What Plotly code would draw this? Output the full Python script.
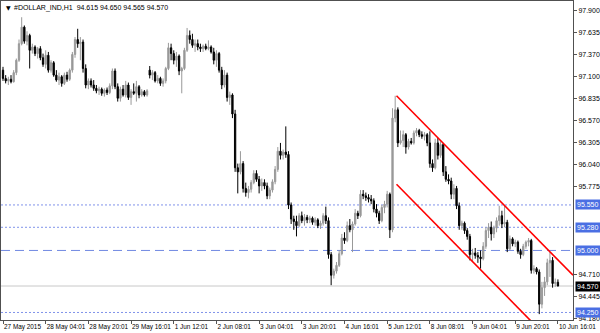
import plotly.graph_objects as go

# ---------------- data ----------------
opens = [
    97.18, 97.08, 97.05, 97.07, 97.04, 97.15, 97.30, 97.50, 97.70, 97.53,
    97.60, 97.42, 97.46, 97.38, 97.44, 97.33, 97.25, 97.36, 97.18, 97.27,
    97.12, 97.06, 97.10, 97.02, 97.12, 97.07, 97.18, 97.37, 97.55, 97.50,
    97.52, 97.20, 97.00, 97.05, 97.00, 96.96, 96.93, 96.95, 96.90, 96.94,
    96.91, 96.99, 97.17, 96.98, 96.84, 96.95, 96.88, 97.00, 96.85, 96.92,
    96.90, 96.98, 96.88, 96.92, 96.88, 97.18, 97.12, 97.15, 97.05, 97.08,
    97.02, 97.05, 97.20, 97.45, 97.38, 97.30, 97.35, 97.17, 97.20, 97.42,
    97.60, 97.55, 97.48, 97.50, 97.46, 97.44, 97.47, 97.44, 97.46, 97.40,
    97.30, 97.38, 97.18, 97.00, 97.12, 96.85, 96.88, 96.65, 96.00, 95.95,
    96.05, 95.75, 95.70, 95.74, 95.82, 95.93, 95.86, 95.78, 95.82, 95.78,
    95.66, 95.73, 95.83, 95.98, 96.20, 96.15, 96.19, 96.16, 95.55, 95.38,
    95.35, 95.30, 95.42, 95.36, 95.40, 95.37, 95.39, 95.34, 95.37, 95.30,
    95.33, 95.42, 95.36, 94.95, 94.70, 94.75, 94.82, 94.96, 95.15, 95.12,
    95.30, 95.25, 95.32, 95.45, 95.42, 95.68, 95.66, 95.64, 95.62, 95.60,
    95.50, 95.45, 95.36, 95.52, 95.56, 95.68, 95.25, 96.60, 96.70, 96.30,
    96.33, 96.40, 96.25, 96.32, 96.30, 96.42, 96.45, 96.40, 96.38, 96.40,
    96.30, 96.05, 96.00, 96.30, 96.15, 96.28, 95.95, 95.86, 95.84, 95.68,
    95.75, 95.54, 95.30, 95.33, 95.24, 95.17, 94.95, 94.97, 94.94, 94.92,
    94.90, 95.05, 95.24, 95.28, 95.20, 95.27, 95.36, 95.42, 95.32, 95.34,
    95.02, 95.14, 95.08, 95.10, 94.99, 94.95, 95.05, 95.10, 95.12, 94.76,
    94.78, 94.74, 94.35, 94.55, 94.62, 94.85, 94.88, 94.60, 94.615,
]
highs = [
    97.22, 97.12, 97.10, 97.12, 97.18, 97.32, 97.55, 97.82, 97.72, 97.65,
    97.62, 97.50, 97.48, 97.46, 97.47, 97.38, 97.42, 97.40, 97.30, 97.29,
    97.18, 97.15, 97.12, 97.15, 97.16, 97.20, 97.40, 97.58, 97.68, 97.58,
    97.55, 97.25, 97.08, 97.08, 97.06, 97.00, 96.98, 96.97, 96.96, 96.97,
    97.02, 97.20, 97.20, 97.02, 96.98, 97.00, 97.05, 97.03, 96.95, 97.02,
    97.05, 97.00, 96.95, 96.94, 96.95, 97.23, 97.18, 97.17, 97.12, 97.10,
    97.08, 97.22, 97.51, 97.50, 97.42, 97.40, 97.37, 97.22, 97.45, 97.69,
    97.66, 97.62, 97.55, 97.55, 97.50, 97.49, 97.50, 97.54, 97.48, 97.45,
    97.42, 97.40, 97.22, 97.18, 97.15, 96.92, 96.90, 96.70, 96.05, 96.20,
    96.08, 95.82, 95.78, 95.85, 95.97, 95.97, 95.90, 95.87, 95.86, 95.82,
    95.76, 95.86, 96.02, 96.25, 96.30, 96.22, 96.50, 96.20, 95.58, 95.42,
    95.42, 95.45, 95.47, 95.44, 95.43, 95.42, 95.41, 95.40, 95.39, 95.36,
    95.45, 95.53, 95.40, 94.98, 94.78, 94.86, 95.00, 95.20, 95.22, 95.35,
    95.38, 95.35, 95.50, 95.48, 95.73, 95.73, 95.70, 95.68, 95.67, 95.63,
    95.56, 95.48, 95.55, 95.60, 95.72, 95.70, 96.72, 96.87, 96.73, 96.45,
    96.45, 96.42, 96.35, 96.36, 96.45, 96.48, 96.47, 96.44, 96.43, 96.42,
    96.44, 96.10, 96.35, 96.36, 96.32, 96.30, 96.02, 95.92, 95.88, 95.80,
    95.78, 95.58, 95.36, 95.35, 95.27, 95.20, 95.02, 95.03, 94.98, 95.00,
    95.10, 95.28, 95.33, 95.35, 95.30, 95.40, 95.54, 95.48, 95.55, 95.37,
    95.18, 95.16, 95.13, 95.12, 95.02, 95.08, 95.12, 95.15, 95.14, 94.82,
    94.80, 94.77, 94.62, 94.68, 94.90, 94.98, 94.92, 94.66, 94.650,
]
lows = [
    97.05, 97.02, 97.00, 97.02, 97.03, 97.12, 97.28, 97.48, 97.50, 97.48,
    97.20, 97.38, 97.35, 97.32, 97.30, 97.22, 97.20, 97.15, 97.15, 97.10,
    97.04, 97.00, 96.98, 97.00, 97.04, 97.05, 97.15, 97.33, 97.45, 97.30,
    97.15, 96.96, 96.95, 96.97, 96.93, 96.90, 96.88, 96.87, 96.86, 96.88,
    96.89, 96.95, 96.95, 96.80, 96.80, 96.86, 96.85, 96.82, 96.76, 96.88,
    96.80, 96.84, 96.86, 96.86, 96.86, 97.08, 97.06, 97.03, 97.02, 96.99,
    96.98, 97.02, 97.18, 97.30, 97.25, 97.22, 97.12, 96.90, 97.18, 97.40,
    97.50, 97.45, 97.40, 97.42, 97.40, 97.40, 97.42, 97.42, 97.38, 97.25,
    97.22, 97.15, 96.95, 96.97, 96.80, 96.76, 96.60, 95.95, 95.69, 95.92,
    95.70, 95.65, 95.63, 95.70, 95.80, 95.83, 95.69, 95.72, 95.74, 95.62,
    95.62, 95.70, 95.80, 95.95, 96.10, 96.10, 96.12, 95.50, 95.32, 95.25,
    95.17, 95.28, 95.33, 95.30, 95.33, 95.33, 95.31, 95.30, 95.27, 95.26,
    95.30, 95.32, 94.90, 94.58, 94.66, 94.72, 94.80, 94.94, 95.08, 95.10,
    95.22, 94.98, 95.30, 95.38, 95.40, 95.62, 95.60, 95.58, 95.56, 95.46,
    95.40, 95.32, 95.34, 95.45, 95.52, 95.15, 95.22, 96.55, 96.25, 96.28,
    96.25, 96.17, 96.22, 96.28, 96.28, 96.38, 96.37, 96.35, 96.33, 96.26,
    96.00, 95.95, 95.98, 96.10, 96.12, 95.90, 95.83, 95.80, 95.62, 95.62,
    95.50, 95.25, 95.25, 95.20, 95.13, 94.88, 94.86, 94.90, 94.85, 94.78,
    94.88, 95.02, 95.15, 95.12, 95.15, 95.22, 95.30, 95.27, 95.28, 94.98,
    95.00, 95.05, 95.04, 94.96, 94.90, 94.93, 95.02, 95.05, 94.72, 94.72,
    94.71, 94.23, 94.30, 94.45, 94.58, 94.68, 94.55, 94.56, 94.565,
]
closes = [
    97.08, 97.05, 97.07, 97.04, 97.15, 97.30, 97.50, 97.70, 97.53, 97.60,
    97.42, 97.46, 97.38, 97.44, 97.33, 97.25, 97.36, 97.18, 97.27, 97.12,
    97.06, 97.10, 97.02, 97.12, 97.07, 97.18, 97.37, 97.55, 97.50, 97.52,
    97.20, 97.00, 97.05, 97.00, 96.96, 96.93, 96.95, 96.90, 96.94, 96.91,
    96.99, 97.17, 96.98, 96.84, 96.95, 96.88, 97.00, 96.85, 96.92, 96.90,
    96.98, 96.88, 96.92, 96.88, 96.93, 97.12, 97.15, 97.05, 97.08, 97.02,
    97.05, 97.20, 97.45, 97.38, 97.30, 97.35, 97.17, 97.20, 97.42, 97.60,
    97.55, 97.48, 97.50, 97.46, 97.44, 97.47, 97.44, 97.46, 97.40, 97.30,
    97.38, 97.18, 97.00, 97.12, 96.85, 96.88, 96.65, 96.00, 95.95, 96.05,
    95.75, 95.70, 95.74, 95.82, 95.93, 95.86, 95.78, 95.82, 95.78, 95.66,
    95.73, 95.83, 95.98, 96.20, 96.15, 96.19, 96.16, 95.55, 95.38, 95.35,
    95.30, 95.42, 95.36, 95.40, 95.37, 95.39, 95.34, 95.37, 95.30, 95.33,
    95.42, 95.36, 94.95, 94.70, 94.75, 94.82, 94.96, 95.15, 95.12, 95.30,
    95.25, 95.32, 95.45, 95.42, 95.68, 95.66, 95.64, 95.62, 95.60, 95.50,
    95.45, 95.36, 95.52, 95.56, 95.68, 95.25, 96.60, 96.70, 96.30, 96.33,
    96.40, 96.25, 96.32, 96.30, 96.42, 96.45, 96.40, 96.38, 96.40, 96.30,
    96.05, 96.00, 96.30, 96.15, 96.28, 95.95, 95.86, 95.84, 95.68, 95.75,
    95.54, 95.30, 95.33, 95.24, 95.17, 94.95, 94.97, 94.94, 94.92, 94.90,
    95.05, 95.24, 95.28, 95.20, 95.27, 95.36, 95.42, 95.32, 95.34, 95.02,
    95.14, 95.08, 95.10, 94.99, 94.95, 95.05, 95.10, 95.12, 94.76, 94.78,
    94.74, 94.35, 94.55, 94.62, 94.85, 94.88, 94.60, 94.615, 94.570,
]

x_tick_bars = [0, 16, 32, 48, 64, 80, 96, 112, 128, 144, 160, 176, 192, 208]
x_tick_labels = ["27 May 2015", "28 May 04:01", "28 May 20:01", "29 May 16:01",
                 "1 Jun 12:01", "2 Jun 08:01", "3 Jun 04:01", "3 Jun 20:01",
                 "4 Jun 16:01", "5 Jun 12:01", "8 Jun 08:01", "9 Jun 04:01",
                 "9 Jun 20:01", "10 Jun 16:01"]
y_tick_values = [97.900, 97.635, 97.370, 97.100, 96.835, 96.570, 96.305,
                 96.040, 95.775, 94.710, 94.445, 94.180]
y_tick_labels = ["97.900", "97.635", "97.370", "97.100", "96.835", "96.570",
                 "96.305", "96.040", "95.775", "94.710", "94.445", "94.180"]

dotted_levels = [95.550, 95.280, 94.250]
dashed_levels = [95.000]
bid_price = 94.570

channel_x = [147.5, 213.65]
channel_upper = [96.87, 94.70]
channel_lower = [95.80, 93.63]

title_text = "#DOLLAR_IND,H1  94.615 94.650 94.565 94.570"

# ---------------- figure ----------------
FONT = "Liberation Sans, Arial, sans-serif"
bars = list(range(len(closes)))

fig = go.Figure()
fig.add_trace(go.Candlestick(
    x=bars, open=opens, high=highs, low=lows, close=closes,
    increasing=dict(line=dict(color="#999999", width=1), fillcolor="#999999"),
    decreasing=dict(line=dict(color="#000000", width=1), fillcolor="#000000"),
    whiskerwidth=0, hoverinfo="skip", showlegend=False,
))
for ys in (channel_upper, channel_lower):
    fig.add_trace(go.Scatter(x=channel_x, y=ys, mode="lines",
                             line=dict(color="#ff0000", width=1.6),
                             hoverinfo="skip", showlegend=False))

shapes = []
for lv in dotted_levels:
    shapes.append(dict(type="line", xref="paper", x0=0, x1=1, yref="y", y0=lv, y1=lv,
                       line=dict(color="#8093ea", width=1, dash="2px,2px"), layer="below"))
for lv in dashed_levels:
    shapes.append(dict(type="line", xref="paper", x0=0, x1=1, yref="y", y0=lv, y1=lv,
                       line=dict(color="#7088e2", width=1, dash="9px,5px"), layer="below"))
shapes.append(dict(type="line", xref="paper", x0=0, x1=1, yref="y", y0=bid_price, y1=bid_price,
                   line=dict(color="#c8c8c8", width=1), layer="below"))

annotations = []
for lv in dotted_levels + dashed_levels:
    annotations.append(dict(xref="paper", x=1, xanchor="left", xshift=2, yref="y", y=lv,
                            text=f"{lv:.3f}", showarrow=False, bgcolor="#4a6fe3",
                            borderpad=1, font=dict(family=FONT, size=7, color="#ffffff")))
annotations.append(dict(xref="paper", x=1, xanchor="left", xshift=2, yref="y", y=bid_price,
                        text=f"{bid_price:.3f}", showarrow=False, bgcolor="#000000",
                        borderpad=1, font=dict(family=FONT, size=7, color="#ffffff")))
annotations.append(dict(xref="paper", x=0, xanchor="left", xshift=3, yref="paper", y=1,
                        yanchor="top", yshift=-1, text="▼", showarrow=False,
                        font=dict(family="DejaVu Sans", size=6, color="#000000")))
annotations.append(dict(xref="paper", x=0, xanchor="left", xshift=11, yref="paper", y=1,
                        yanchor="top", yshift=-1, text=title_text, showarrow=False,
                        font=dict(family=FONT, size=7, color="#000000")))

fig.update_layout(
    width=600, height=333,
    margin=dict(l=1, r=27, t=1, b=13, autoexpand=False),
    paper_bgcolor="#ffffff", plot_bgcolor="#ffffff",
    shapes=shapes, annotations=annotations,
    font=dict(family=FONT, size=7, color="#000000"),
    xaxis=dict(range=[-0.75, 213.65], rangeslider=dict(visible=False),
               tickmode="array", tickvals=x_tick_bars, ticktext=x_tick_labels,
               tickangle=0, automargin=False,
               ticks="outside", ticklen=3, tickcolor="#555555",
               ticklabelposition="outside right",
               tickfont=dict(family=FONT, size=6.4, color="#000000"),
               showgrid=False, zeroline=False,
               showline=True, mirror=True, linecolor="#505050", linewidth=1),
    yaxis=dict(range=[94.159, 98.016], side="right", automargin=False,
               tickmode="array", tickvals=y_tick_values, ticktext=y_tick_labels,
               ticks="outside", ticklen=3, tickcolor="#555555",
               tickfont=dict(family=FONT, size=7, color="#000000"),
               showgrid=False, zeroline=False,
               showline=True, mirror=True, linecolor="#505050", linewidth=1),
)

fig.write_html("out.html")
